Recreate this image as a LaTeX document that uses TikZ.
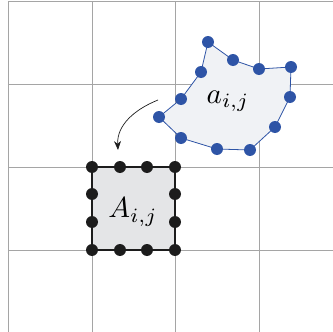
\documentclass[tikz,border=0pt]{standalone}
\usepackage{graphicx}
\usetikzlibrary{arrows.meta}
\definecolor{gridgray}{RGB}{165,165,165}
\definecolor{dotblue}{RGB}{46,84,166}
\definecolor{polyfill}{RGB}{240,242,245}
\definecolor{sqfill}{RGB}{228,229,231}
\definecolor{dotblack}{RGB}{28,28,28}
\tikzset{
  gridline/.style={draw=gridgray, line width=0.9pt},
  bdot/.style={circle, fill=dotblue, inner sep=0pt, minimum size=12pt},
  kdot/.style={circle, fill=dotblack, inner sep=0pt, minimum size=12pt},
  lbl/.style={inner sep=0pt},
}
\newcommand{\biglbl}[1]{\scalebox{2.9}{$#1$}}
\begin{document}
\begin{tikzpicture}[x=1pt,y=-1pt]
\useasboundingbox (0,0) rectangle (333,332);
% grid
\foreach \x in {8,92,175,259} \draw[gridline] (\x,1) -- (\x,332);
\foreach \y in {1,84,167,250} \draw[gridline] (8,\y) -- (333,\y);
% square
\draw[fill=sqfill, draw=dotblack, line width=1.3pt] (92,167) rectangle (175,250);
\foreach \x/\n in {92/1,120/2,147/3,175/4} {
  \node[kdot] (t\n) at (\x,167) {};
  \node[kdot] (b\n) at (\x,250) {};
}
\foreach \y/\n in {194/1,222/2} {
  \node[kdot] (l\n) at (92,\y) {};
  \node[kdot] (r\n) at (175,\y) {};
}
\node[lbl] (A) at (133,212) {\biglbl{A_{i,j}}};
% polygon
\coordinate (p1) at (208,42);
\coordinate (p2) at (233,60);
\coordinate (p3) at (259,69);
\coordinate (p4) at (291,67);
\coordinate (p5) at (290,97);
\coordinate (p6) at (275,127);
\coordinate (p7) at (250,150);
\coordinate (p8) at (217,149);
\coordinate (p9) at (181,138);
\coordinate (p10) at (159,117);
\coordinate (p11) at (181,99);
\coordinate (p12) at (201,72);
\draw[fill=polyfill, draw=dotblue, line width=0.8pt] (p1) -- (p2) -- (p3) -- (p4) -- (p5) -- (p6) -- (p7) -- (p8) -- (p9) -- (p10) -- (p11) -- (p12) -- cycle;
\foreach \i in {1,...,12} \node[bdot] (q\i) at (p\i) {};
\node[lbl] (a) at (228,101) {\biglbl{a_{i,j}}};
% arrow
\coordinate (s) at (158,100);
\coordinate (e) at (118,150);
\draw[-{Stealth[length=9pt,width=7pt]}, line width=0.7pt, draw=dotblack] (s) to[out=202, in=93] (e);
\end{tikzpicture}
\end{document}
